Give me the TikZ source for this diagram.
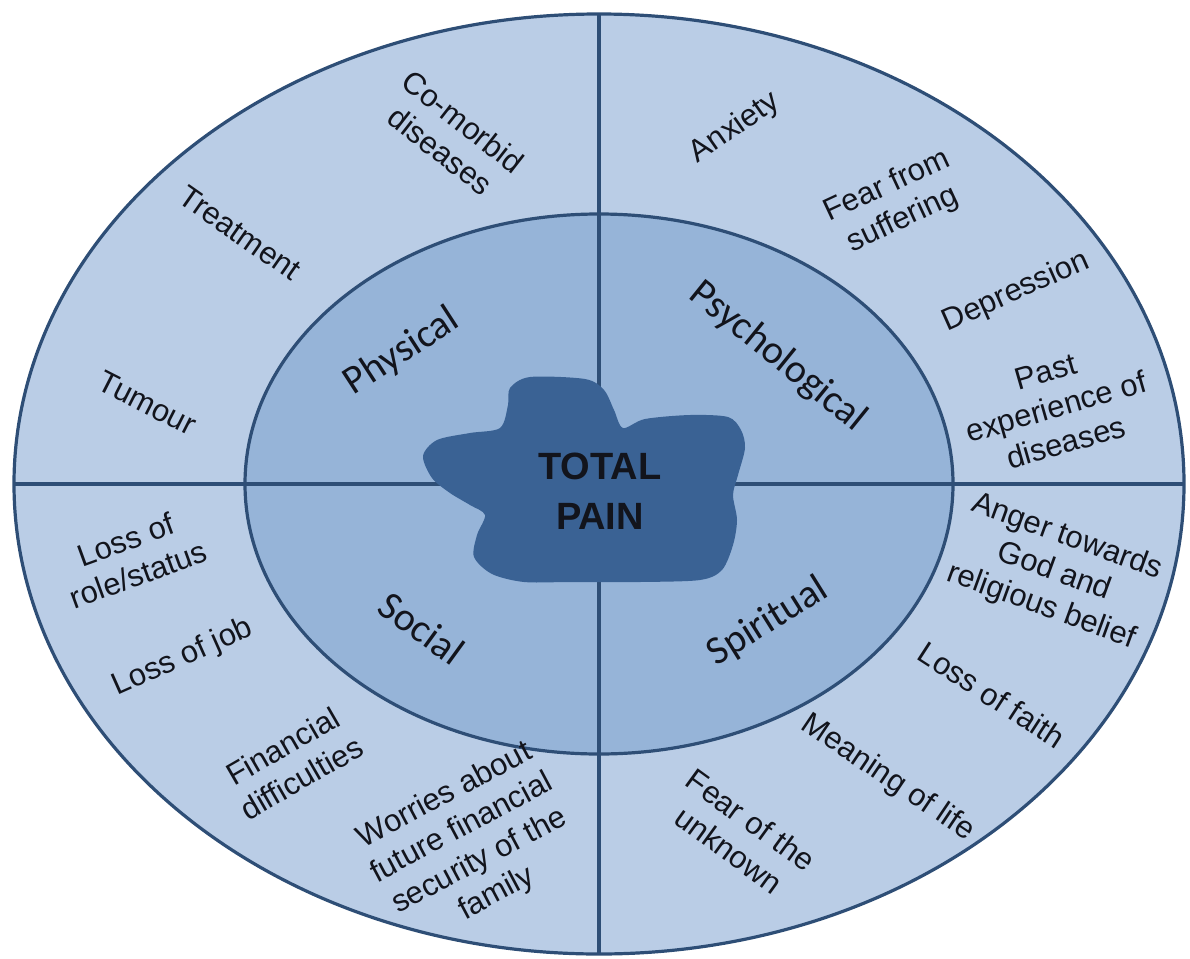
\documentclass[tikz,border=0pt]{standalone}
\usepackage{fontspec}
\setmainfont{Liberation Sans}
\newfontfamily\calfont{Carlito}
\usetikzlibrary{shapes.geometric}
\definecolor{ringfill}{RGB}{186,205,230}
\definecolor{corefill}{RGB}{150,180,216}
\definecolor{blobfill}{RGB}{58,98,148}
\definecolor{edge}{RGB}{46,78,118}
\definecolor{ink}{RGB}{18,20,28}
\begin{document}
\begin{tikzpicture}[x=1pt,y=-1pt,
  outerlbl/.style={font=\fontsize{31}{37}\selectfont, text=ink, align=center, inner sep=0pt},
  innerlbl/.style={font=\calfont\fontsize{40}{48}\selectfont, text=ink, inner sep=0pt},
  ring/.style={ellipse, draw=edge, line width=3.2pt, inner sep=0pt, outer sep=0pt},
  divider/.style={draw=edge, line width=3.2pt}]
\useasboundingbox (0,0) rectangle (1190,958);
\node[ring, fill=ringfill, minimum width=1170pt, minimum height=940pt] (outer) at (599,484) {};
\node[ring, fill=corefill, minimum width=708pt, minimum height=540pt] (inner) at (599,484) {};
\draw[divider] (outer.north) -- (outer.south);
\draw[divider] (outer.west) -- (outer.east);
\fill[blobfill] plot[smooth cycle, tension=0.5] coordinates {
  (510,388) (530,377) (585,379) (604,390) (614,410) (623,428) (645,419)
  (690,415) (728,417) (741,430) (745,448) (738,475) (733,495) (737,520)
  (733,545) (722,570) (700,580) (640,582) (570,582) (524,582) (492,574)
  (474,557) (477,535) (485,515) (470,505) (450,493) (432,478) (423,456)
  (437,440) (470,433) (500,428) (508,405)};
\node[font=\bfseries\fontsize{38}{50}\selectfont, text=ink, align=center, inner sep=0pt] (total) at (600,491) {TOTAL\\PAIN};
% Physical
\node[outerlbl, rotate=-38] (comorbid) at (452,136) {Co-morbid\\diseases};
\node[outerlbl, rotate=-35] (treatment) at (240,233) {Treatment};
\node[outerlbl, rotate=-27] (tumour) at (147,403) {Tumour};
\node[innerlbl, rotate=33] (physical) at (402,352) {Physical};
% Psychological
\node[outerlbl, rotate=35] (anxiety) at (735,128) {Anxiety};
\node[outerlbl, rotate=25] (fear) at (895,203) {Fear from\\suffering};
\node[outerlbl, rotate=24] (depression) at (1016,292) {Depression};
\node[outerlbl, rotate=16] (past) at (1056,407) {Past\\experience of\\diseases};
\node[innerlbl, rotate=-39] (psych) at (778,357) {Psychological};
% Social
\node[outerlbl, rotate=20] (role) at (132,557) {Loss of\\role/status};
\node[outerlbl, rotate=24] (job) at (183,658) {Loss of job};
\node[outerlbl, rotate=30] (financial) at (292,762) {Financial\\difficulties};
\node[outerlbl, rotate=28] (worries) at (471,845) {Worries about\\future financial\\security of the\\family};
\node[innerlbl, rotate=-36] (social) at (422,628) {Social};
% Spiritual
\node[outerlbl, rotate=-20] (anger) at (1054,572) {Anger towards\\God and\\religious belief};
\node[outerlbl, rotate=-33] (faith) at (992,695) {Loss of faith};
\node[outerlbl, rotate=-34] (meaning) at (888,778) {Meaning of life};
\node[outerlbl, rotate=-36] (unknown) at (740,835) {Fear of the\\unknown};
\node[innerlbl, rotate=32] (spiritual) at (768,622) {Spiritual};
\end{tikzpicture}
\end{document}
